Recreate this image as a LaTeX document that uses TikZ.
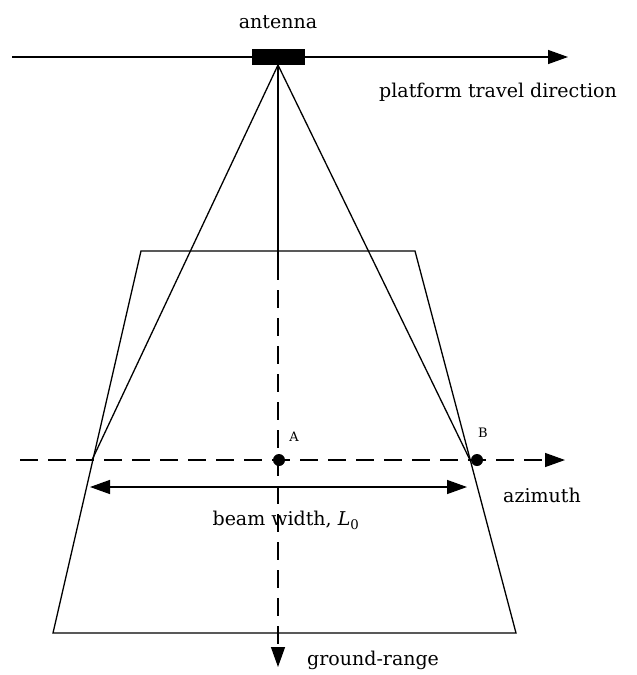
\documentclass[tikz,border=0pt]{standalone}
\usepackage{fontspec}
\setmainfont{DejaVu Serif}
\usetikzlibrary{arrows.meta,positioning}

\begin{document}
\begin{tikzpicture}[x=1pt, y=-1pt,
  line/.style={draw, line width=1.4pt, -{Triangle[length=20pt,width=14pt]}},
  twoway/.style={draw, line width=1.4pt, {Triangle[length=20pt,width=14pt]}-{Triangle[length=20pt,width=14pt]}},
  dashline/.style={line, dash pattern=on 18pt off 10pt},
  edge/.style={draw, line width=1.3pt},
  txt/.style={font=\fontsize{19}{22}\selectfont, inner sep=0pt},
  pointtxt/.style={font=\fontsize{13}{15}\selectfont, inner sep=0pt},
  dot/.style={circle, fill, inner sep=0pt, minimum size=12pt}]
  \useasboundingbox (0,0) rectangle (637,675);

  % platform track and antenna
  \coordinate (trackstart) at (12,57);
  \coordinate (trackend) at (568,57);
  \node [fill, minimum width=53pt, minimum height=16pt, inner sep=0pt] (antenna) at (278,57) {};
  \node [txt] (antennatxt) at (278,22) {antenna};
  \node [txt] (travel) at (498,92) {platform travel direction};
  \coordinate (apex) at (278,65);

  % illuminated footprint
  \coordinate (tl) at (141,251);
  \coordinate (tr) at (415,251);
  \coordinate (br) at (516,633);
  \coordinate (bl) at (53,633);

  % points on the azimuth line
  \node [dot] (A) at (279,460) {};
  \node [dot] (B) at (477,460) {};
  \node [pointtxt] (Atxt) at (294,437) {A};
  \node [pointtxt] (Btxt) at (483,433) {B};
  \coordinate (beamleft) at (92,460);
  \coordinate (beamright) at (470,460);
  \coordinate (azstart) at (20,460);
  \coordinate (azend) at (565,460);
  \coordinate (wleft) at (90,487);
  \coordinate (wright) at (467,487);
  \coordinate (midcut) at (278,262);
  \coordinate (rangeend) at (278,667);

  \node [txt] (width) at (286,520) {beam width, \textit{L}\textsubscript{0}};
  \node [txt] (azimuth) at (542,495) {azimuth};
  \node [txt, anchor=west] (range) at (307,660) {ground-range};

  \draw [line] (trackstart) -- (trackend);
  \draw [edge] (tl) -- (tr) -- (br) -- (bl) -- cycle;
  \draw [edge] (apex) -- (beamleft);
  \draw [edge] (apex) -- (beamright);
  \draw [edge] (apex) -- (midcut);
  \draw [dashline] (midcut) -- (rangeend);
  \draw [dashline] (azstart) -- (azend);
  \draw [twoway] (wleft) -- (wright);
\end{tikzpicture}
\end{document}
